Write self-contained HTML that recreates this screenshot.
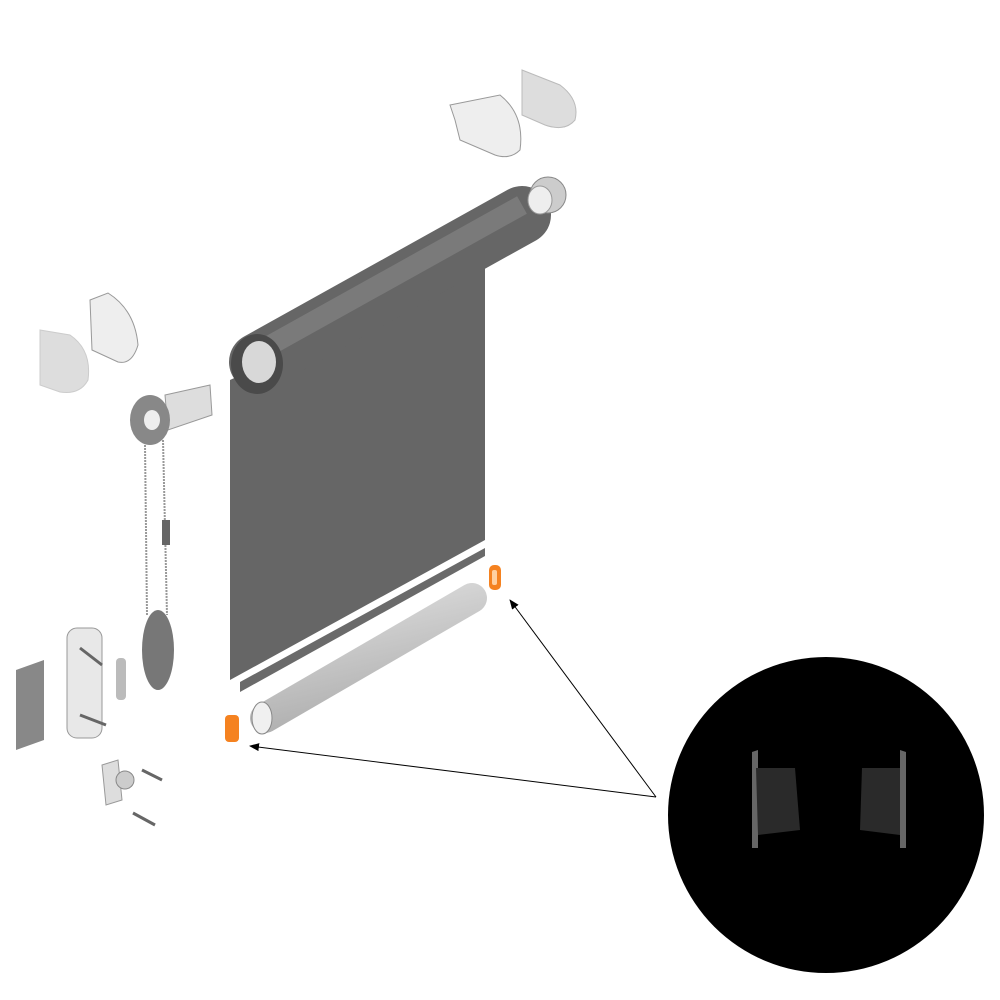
<!DOCTYPE html>
<html><head><meta charset="utf-8"><style>html,body{margin:0;padding:0;background:#fff}svg{display:block}</style></head>
<body>
<svg width="1000" height="1000" viewBox="0 0 1000 1000" xmlns="http://www.w3.org/2000/svg">
<defs>
<linearGradient id="tube" x1="0" y1="0" x2="0.5" y2="1"><stop offset="0" stop-color="#8a8a8a"/><stop offset="0.5" stop-color="#6a6a6a"/><stop offset="1" stop-color="#555"/></linearGradient>
<linearGradient id="rail" x1="0" y1="0" x2="0.4" y2="1"><stop offset="0" stop-color="#e0e0e0"/><stop offset="1" stop-color="#b0b0b0"/></linearGradient>
<marker id="ah" markerWidth="10" markerHeight="8" refX="9" refY="4" orient="auto"><path d="M0,0 L10,4 L0,8 z" fill="#000"/></marker>
</defs>
<!-- fabric -->
<polygon points="230,380 485,262 485,540 230,680" fill="#666"/>
<polygon points="240,682 485,548 485,556 240,692" fill="#6a6a6a"/>
<!-- roller tube -->
<line x1="258" y1="362" x2="522" y2="215" stroke="#666" stroke-width="58" stroke-linecap="round"/>
<line x1="258" y1="352" x2="522" y2="205" stroke="#7a7a7a" stroke-width="20"/>
<ellipse cx="257" cy="364" rx="26" ry="30" fill="#4a4a4a"/>
<ellipse cx="259" cy="362" rx="17" ry="21" fill="#d8d8d8"/>
<!-- right end plug -->
<ellipse cx="548" cy="195" rx="18" ry="18" fill="#ccc" stroke="#888"/>
<ellipse cx="540" cy="200" rx="12" ry="14" fill="#eee" stroke="#999"/>
<!-- right brackets -->
<path d="M522,70 L560,85 Q580,100 575,120 Q565,132 545,125 L522,115 Z" fill="#ddd" stroke="#bbb"/>
<path d="M450,105 L500,95 Q525,115 520,150 Q510,160 495,155 L460,140 L455,120 Z" fill="#eee" stroke="#999"/>
<!-- bottom rail -->
<line x1="265" y1="718" x2="472" y2="598" stroke="url(#rail)" stroke-width="30" stroke-linecap="round"/>
<ellipse cx="262" cy="718" rx="10" ry="16" fill="#f0f0f0" stroke="#888"/>
<!-- orange caps -->
<rect x="225" y="715" width="14" height="27" rx="4" fill="#f58220"/>
<rect x="489" y="565" width="12" height="25" rx="5" fill="#f58220"/>
<rect x="492" y="570" width="5" height="15" rx="2" fill="#ffd0a0"/>
<!-- left brackets -->
<path d="M40,330 L70,335 Q92,350 88,380 Q80,395 60,392 L40,385 Z" fill="#ddd" stroke="#ccc"/>
<path d="M90,300 L108,293 Q135,310 138,345 Q132,365 118,362 L92,350 Z" fill="#eee" stroke="#999"/>
<!-- chain control -->
<path d="M165,395 L210,385 L212,415 L168,430 Z" fill="#ddd" stroke="#999"/>
<ellipse cx="150" cy="420" rx="20" ry="25" fill="#888"/>
<ellipse cx="152" cy="420" rx="8" ry="10" fill="#eee"/>
<line x1="145" y1="445" x2="147" y2="615" stroke="#999" stroke-width="2" stroke-dasharray="2,1"/>
<line x1="163" y1="440" x2="167" y2="615" stroke="#999" stroke-width="2" stroke-dasharray="2,1"/>
<rect x="162" y="520" width="8" height="25" fill="#666"/>
<ellipse cx="158" cy="650" rx="16" ry="40" fill="#777"/>
<!-- lower left parts -->
<polygon points="16,670 44,660 44,740 16,750" fill="#888"/>
<rect x="67" y="628" width="35" height="110" rx="10" fill="#e8e8e8" stroke="#999"/>
<rect x="116" y="658" width="10" height="42" rx="4" fill="#bbb"/>
<line x1="80" y1="648" x2="102" y2="665" stroke="#666" stroke-width="3"/>
<line x1="80" y1="715" x2="106" y2="725" stroke="#666" stroke-width="3"/>
<path d="M102,765 L118,760 L122,800 L106,805 Z" fill="#ddd" stroke="#999"/>
<circle cx="125" cy="780" r="9" fill="#ccc" stroke="#888"/>
<line x1="142" y1="770" x2="162" y2="780" stroke="#666" stroke-width="3"/>
<line x1="133" y1="813" x2="155" y2="825" stroke="#666" stroke-width="3"/>
<!-- black circle -->
<circle cx="826" cy="815" r="158" fill="#000"/>
<path d="M752,752 L758,750 L758,848 L752,848 Z" fill="#666"/>
<path d="M756,768 L795,768 L800,830 L758,835 Z" fill="#2a2a2a"/>
<path d="M906,752 L900,750 L900,848 L906,848 Z" fill="#666"/>
<path d="M900,768 L862,768 L860,830 L900,835 Z" fill="#2a2a2a"/>
<!-- arrows -->
<line x1="656" y1="797" x2="250" y2="746" stroke="#000" stroke-width="1" marker-end="url(#ah)"/>
<line x1="656" y1="797" x2="510" y2="600" stroke="#000" stroke-width="1" marker-end="url(#ah)"/>
</svg>
</body></html>
